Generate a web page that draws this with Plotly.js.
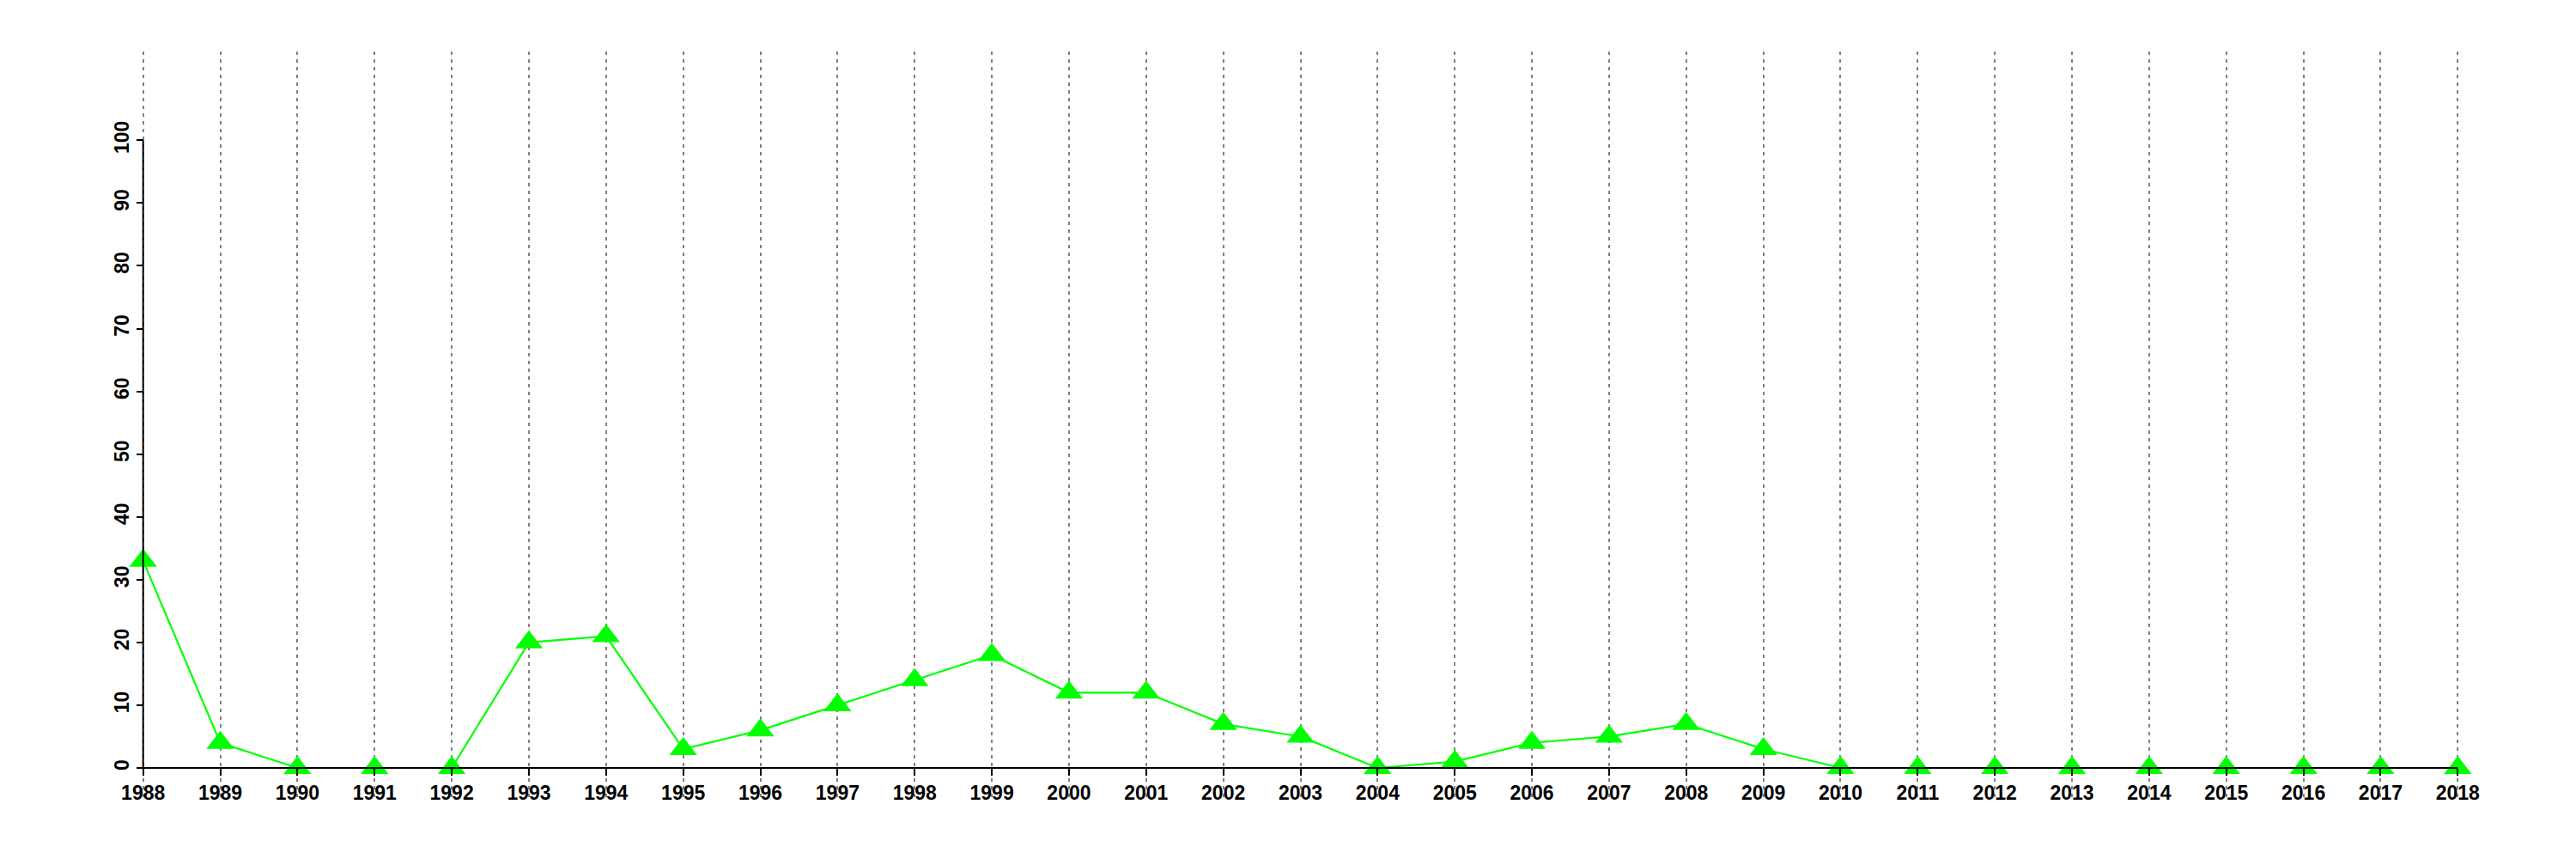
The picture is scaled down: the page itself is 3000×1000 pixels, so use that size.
<!DOCTYPE html>
<html>
<head>
<meta charset="utf-8">
<script src="https://cdn.plot.ly/plotly-3.0.1.min.js"></script>
<style>html,body{margin:0;padding:0;background:#fff;}#chart{width:3000px;height:1000px;}</style>
</head>
<body>
<div id="chart"></div>
<script>
const years = [1988,1989,1990,1991,1992,1993,1994,1995,1996,1997,1998,1999,2000,2001,2002,2003,2004,2005,2006,2007,2008,2009,2010,2011,2012,2013,2014,2015,2016,2017,2018];
const values = [33,4,0,0,0,20,21,3,6,10,14,18,12,12,7,5,0,1,4,5,7,3,0,0,0,0,0,0,0,0,0];
const yTicks = [0,10,20,30,40,50,60,70,80,90,100];

const yRange = [-4.93, 114.14];
const xPad = 0.03;
const xRange = [years[0] - xPad, years[years.length-1] + xPad];
const xAxisPos = (0 - yRange[0]) / (yRange[1] - yRange[0]);
const yAxisPos = (years[0] - xRange[0]) / (xRange[1] - xRange[0]);
const font = {family: '"Liberation Sans", Arial, sans-serif', size: 23, color: '#000', weight: 'bold'};

const trace = {
  x: years, y: values, type: 'scatter', mode: 'lines+markers',
  line: {color: '#00ff00', width: 2.2},
  marker: {symbol: 'triangle-up', size: 28, color: '#00ff00'},
  cliponaxis: false, showlegend: false, hoverinfo: 'none'
};

const layout = {
  width: 3000, height: 1000,
  margin: {l: 164, r: 135, t: 60, b: 70, pad: 0},
  paper_bgcolor: '#fff', plot_bgcolor: '#fff',
  showlegend: false,
  font: font,
  xaxis: {
    range: xRange,
    tickmode: 'array', tickvals: years, ticktext: years.map(String),
    showgrid: true, gridcolor: '#808080', gridwidth: 2, griddash: '4px,5px',
    zeroline: false, showline: false,
    ticks: 'outside', ticklen: 8, tickwidth: 2, tickcolor: '#000',
    anchor: 'free', position: xAxisPos,
    tickfont: font, tickangle: 0
  },
  yaxis: {
    range: yRange,
    tickmode: 'array', tickvals: yTicks, ticktext: yTicks.map(String),
    showgrid: false, zeroline: false, showline: false,
    ticks: 'outside', ticklen: 8, tickwidth: 2, tickcolor: '#000',
    anchor: 'free', position: yAxisPos,
    tickangle: -90, tickfont: font
  },
  shapes: [
    {type: 'line', xref: 'x', yref: 'y', x0: years[0], x1: years[0], y0: yTicks[0], y1: yTicks[yTicks.length-1], line: {color: '#000', width: 2}, layer: 'above'},
    {type: 'line', xref: 'x', yref: 'y', x0: years[0], x1: years[years.length-1], y0: 0, y1: 0, line: {color: '#000', width: 2}, layer: 'above'}
  ]
};

Plotly.newPlot('chart', [trace], layout, {displayModeBar: false, staticPlot: true});
</script>
</body>
</html>
